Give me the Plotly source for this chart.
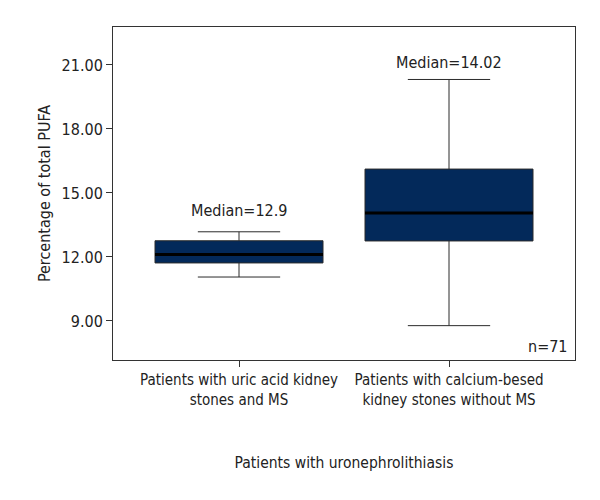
import plotly.graph_objects as go

categories = ["Patients with uric acid kidney<br>stones and MS",
              "Patients with calcium-besed<br>kidney stones without MS"]
lower = [11.06, 8.78]
q1 = [11.72, 12.75]
median = [12.12, 14.06]
q3 = [12.76, 16.12]
upper = [13.18, 20.32]
median_labels = ["Median=12.9", "Median=14.02"]
n_label = "n=71"
y_ticks = [9, 12, 15, 18, 21]

# label placement (layout, not data)
label_y = [14.2, 21.1]

FONT = "DejaVu Sans Condensed, Liberation Sans Narrow, sans-serif"
FILL = "#03295a"
xpos = list(range(len(categories)))

fig = go.Figure()
fig.add_trace(go.Box(
    x=xpos, q1=q1, median=median, q3=q3, lowerfence=lower, upperfence=upper,
    fillcolor=FILL, line=dict(color="#2b2b2b", width=1),
    width=0.8, whiskerwidth=0.49, boxpoints=False, showlegend=False,
    hoverinfo="skip"))
for i in xpos:
    fig.add_trace(go.Scatter(
        x=[i - 0.4, i + 0.4], y=[median[i], median[i]], mode="lines",
        line=dict(color="black", width=3), showlegend=False, hoverinfo="skip"))
    fig.add_annotation(x=i, y=label_y[i], text=median_labels[i], showarrow=False,
                       yanchor="middle", font=dict(size=16, color="#222"))

fig.add_annotation(x=1, xref="paper", y=0, yref="paper", text=n_label,
                   showarrow=False, xanchor="right", yanchor="bottom",
                   xshift=-5, yshift=2, font=dict(size=16, color="#222"))

fig.update_layout(
    width=600, height=500,
    margin=dict(l=105, r=33, t=19, b=148),
    paper_bgcolor="white", plot_bgcolor="white",
    font=dict(family=FONT, size=16, color="#222"),
    xaxis=dict(range=[-0.6, 1.6], tickvals=xpos, ticktext=categories,
               tickfont=dict(size=15),
               ticks="outside", ticklen=6, tickcolor="#333",
               showline=True, mirror=True, linecolor="#333", linewidth=1,
               showgrid=False, zeroline=False,
               title=dict(text="Patients with uronephrolithiasis", standoff=49,
                          font=dict(size=15.5))),
    yaxis=dict(range=[7.17, 22.78], tickvals=y_ticks,
               ticktext=[f"{v:.2f}" for v in y_ticks],
               tickfont=dict(size=16),
               ticks="outside", ticklen=6, tickcolor="#333",
               showline=True, mirror=True, linecolor="#333", linewidth=1,
               showgrid=False, zeroline=False,
               title=dict(text="Percentage of total PUFA", standoff=6,
                          font=dict(size=16))),
)
fig.write_html("out.html")
